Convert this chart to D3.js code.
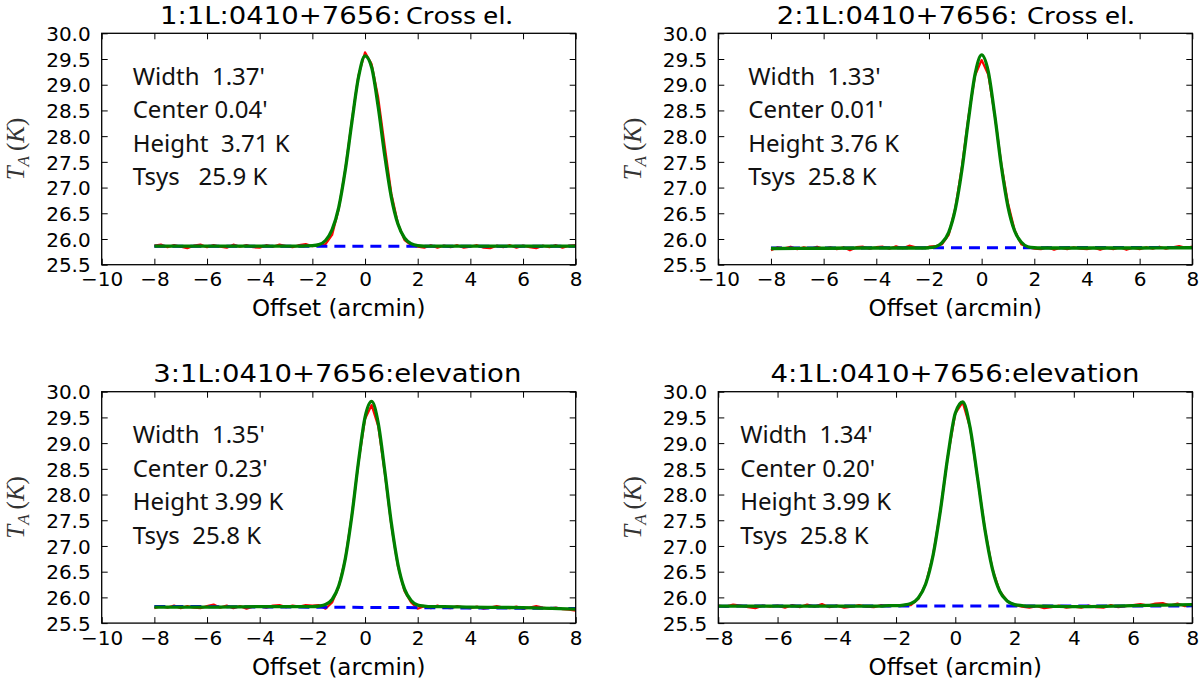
<!DOCTYPE html>
<html><head><meta charset="utf-8">
<script src="https://cdn.jsdelivr.net/npm/d3@7"></script>
<style>
body{margin:0;background:#fff}
svg{display:block;background:#fff}
.tick text{font-family:"DejaVu Sans";font-size:20px;fill:#000}
.annot{font-family:"Noto Sans";font-size:24px;fill:#111;white-space:pre}
</style>
</head><body>
<svg id="chart" width="1200" height="682"></svg>
<script>
// ---------------- data ----------------
const titleHeads = ["1:1L:0410+7656:", "2:1L:0410+7656:", "3:1L:0410+7656:elevation", "4:1L:0410+7656:elevation"];
const titleTails = ["Cross el.", "Cross el.", "", ""];
const xLabel = "Offset (arcmin)";
const yTicks = [25.5, 26.0, 26.5, 27.0, 27.5, 28.0, 28.5, 29.0, 29.5, 30.0];
const xTicksWide = [-10, -8, -6, -4, -2, 0, 2, 4, 6, 8];
const xTicksNarrow = [-8, -6, -4, -2, 0, 2, 4, 6, 8];
const xDomainWide = [-10, 8];
const xDomainNarrow = [-8, 8];
const yDomain = [25.5, 30.0];

const annot1 = ["Width  1.37'", "Center 0.04'", "Height  3.71 K", "Tsys   25.9 K"];
const annot2 = ["Width  1.33'", "Center 0.01'", "Height 3.76 K", "Tsys  25.8 K"];
const annot3 = ["Width  1.35'", "Center 0.23'", "Height 3.99 K", "Tsys  25.8 K"];
const annot4 = ["Width  1.34'", "Center 0.20'", "Height 3.99 K", "Tsys  25.8 K"];

// measured data (red) sampled offsets
const dataOffsets = [-8,-7.75,-7.5,-7.25,-7,-6.75,-6.5,-6.25,
  -6,-5.75,-5.5,-5.25,-5,-4.75,-4.5,-4.25,
  -4,-3.75,-3.5,-3.25,-3,-2.75,-2.5,-2.25,
  -2,-1.75,-1.5,-1.25,-1,-0.75,-0.5,-0.25,
  0,0.25,0.5,0.75,1,1.25,1.5,1.75,
  2,2.25,2.5,2.75,3,3.25,3.5,3.75,
  4,4.25,4.5,4.75,5,5.25,5.5,5.75,
  6,6.25,6.5,6.75,7,7.25,7.5,7.75,
  8];

const data1 = [25.87,25.89,25.84,25.88,25.85,25.82,25.87,25.89,
  25.84,25.88,25.85,25.83,25.89,25.85,25.88,25.84,
  25.83,25.88,25.85,25.89,25.86,25.84,25.88,25.90,
  25.86,25.89,25.90,26.08,26.58,27.35,28.30,29.18,
  29.63,29.40,28.75,27.80,26.88,26.30,25.98,25.88,
  25.85,25.83,25.88,25.83,25.87,25.84,25.88,25.83,
  25.85,25.88,25.83,25.82,25.87,25.84,25.88,25.83,
  25.87,25.84,25.82,25.87,25.84,25.88,25.83,25.87,
  25.88];
const data2 = [25.78,25.84,25.82,25.85,25.80,25.84,25.81,25.85,
  25.81,25.84,25.80,25.84,25.78,25.84,25.85,25.81,
  25.84,25.85,25.81,25.86,25.82,25.87,25.84,25.82,
  25.85,25.86,25.90,26.08,26.60,27.40,28.38,29.18,
  29.48,29.20,28.40,27.45,26.70,26.18,25.90,25.84,
  25.81,25.80,25.84,25.79,25.83,25.80,25.84,25.81,
  25.80,25.83,25.79,25.83,25.80,25.84,25.79,25.83,
  25.80,25.84,25.81,25.85,25.81,25.84,25.86,25.83,
  25.85];
const data3 = [25.79,25.83,25.80,25.84,25.79,25.83,25.80,25.79,
  25.83,25.86,25.80,25.84,25.79,25.83,25.78,25.82,
  25.83,25.80,25.84,25.85,25.81,25.84,25.82,25.85,
  25.84,25.85,25.78,25.90,26.20,26.75,27.60,28.62,
  29.47,29.74,29.33,28.42,27.40,26.60,26.12,25.90,
  25.78,25.83,25.79,25.84,25.80,25.79,25.83,25.80,
  25.79,25.82,25.78,25.80,25.83,25.80,25.79,25.82,
  25.78,25.80,25.83,25.80,25.78,25.80,25.77,25.76,
  25.74];
const data4 = [25.84,25.82,25.86,25.84,25.81,25.79,25.84,25.82,
  25.84,25.80,25.85,25.81,25.86,25.82,25.87,25.81,
  25.84,25.80,25.82,25.85,25.82,25.81,25.85,25.83,
  25.85,25.84,25.85,25.97,26.26,26.82,27.70,28.75,
  29.58,29.79,29.30,28.33,27.32,26.56,26.12,25.93,
  25.85,25.82,25.80,25.83,25.79,25.81,25.84,25.80,
  25.82,25.80,25.84,25.81,25.80,25.85,25.81,25.83,
  25.85,25.87,25.84,25.88,25.89,25.84,25.88,25.83,
  25.86];

// gaussian fit (green) sampled offsets
const fitOffsets = [-8,-6,-4,-3,-2.5,-2.25,-2,-1.75,-1.5,-1.25,-1,-0.75,-0.5,-0.25,0,0.25,0.5,0.75,1,1.25,1.5,1.75,2,2.25,2.5,3,4,6,8];
const fit1 = [25.86,25.86,25.86,25.86,25.86,25.865,25.87,25.89,25.97,26.18,26.61,27.34,28.27,29.14,29.56,29.34,28.57,27.62,26.81,26.29,26.02,25.91,25.87,25.86,25.86,25.86,25.86,25.86,25.86];
const fit2 = [25.815,25.82,25.825,25.825,25.825,25.825,25.83,25.85,25.93,26.13,26.58,27.34,28.32,29.20,29.58,29.26,28.40,27.41,26.63,26.16,25.94,25.85,25.83,25.825,25.825,25.825,25.825,25.825,25.83];
const fit3 = [25.81,25.81,25.82,25.82,25.82,25.82,25.82,25.83,25.86,25.96,26.22,26.75,27.59,28.63,29.50,29.81,29.39,28.46,27.44,26.64,26.16,25.94,25.85,25.83,25.82,25.82,25.81,25.80,25.77];
const fit4 = [25.83,25.83,25.83,25.83,25.83,25.84,25.84,25.85,25.88,25.99,26.26,26.82,27.70,28.75,29.58,29.80,29.30,28.33,27.32,26.56,26.12,25.93,25.86,25.84,25.83,25.83,25.82,25.84,25.86];

// baseline (blue dashed)
const baseOffsets = [-8, 8];
const base1 = [25.86, 25.86];
const base2 = [25.825, 25.835];
const base3 = [25.825, 25.785];
const base4 = [25.83, 25.835];

// ---------------- layout ----------------
const panels = [
  {l:101.7, t:33.3, title:0, dom:xDomainWide, ticks:xTicksWide, data:data1, fit:fit1, base:base1, annot:annot1, ax:31, ylx:17,
   headX:160, headW:241, tailX:405.7, tailW:107},
  {l:718.3, t:33.3, title:1, dom:xDomainWide, ticks:xTicksWide, data:data2, fit:fit2, base:base2, annot:annot2, ax:30, ylx:634,
   headX:776.7, headW:241, tailX:1026.7, tailW:108},
  {l:101.7, t:391.7, title:2, dom:xDomainWide, ticks:xTicksWide, data:data3, fit:fit3, base:base3, annot:annot3, ax:31, ylx:17,
   headX:153.3, headW:368},
  {l:718.3, t:391.7, title:3, dom:xDomainNarrow, ticks:xTicksNarrow, data:data4, fit:fit4, base:base4, annot:annot4, ax:22, ylx:634,
   headX:770.5, headW:369}
];
const PW = 474, PH = 231.4;

const svg = d3.select("#chart");
svg.append("rect").attr("width",1200).attr("height",682).attr("fill","#fff");

const fmtX = d3.format("d");
const fmtY = d3.format(".1f");

panels.forEach(p => {
  const x = d3.scaleLinear().domain(p.dom).range([0, PW]);
  const y = d3.scaleLinear().domain(yDomain).range([PH, 0]);
  const g = svg.append("g").attr("transform", `translate(${p.l},${p.t})`);

  const clip = "clip" + p.title;
  g.append("clipPath").attr("id", clip).append("rect").attr("width", PW).attr("height", PH);
  const plot = g.append("g").attr("clip-path", `url(#${clip})`);

  // red data
  const redLine = d3.line().x((d,i)=>x(dataOffsets[i])).y(d=>y(d));
  plot.append("path").datum(p.data).attr("d", redLine)
    .attr("fill","none").attr("stroke","#ff0000").attr("stroke-width",2.2).attr("stroke-linejoin","round");
  // blue baseline
  const blueLine = d3.line().x((d,i)=>x(baseOffsets[i])).y(d=>y(d));
  plot.append("path").datum(p.base).attr("d", blueLine)
    .attr("fill","none").attr("stroke","#0000ff").attr("stroke-width",3).attr("stroke-dasharray","11,7");
  // green fit
  const greenLine = d3.line().curve(d3.curveMonotoneX).x((d,i)=>x(fitOffsets[i])).y(d=>y(d));
  plot.append("path").datum(p.fit).attr("d", greenLine)
    .attr("fill","none").attr("stroke","#008000").attr("stroke-width",3.3).attr("stroke-linejoin","round");

  // axes
  const ax = g.append("g").attr("transform", `translate(0,${PH})`)
    .call(d3.axisBottom(x).tickValues(p.ticks).tickFormat(fmtX).tickSizeInner(-6).tickSizeOuter(0).tickPadding(7));
  const axT = g.append("g").call(d3.axisTop(x).tickValues(p.ticks).tickFormat("").tickSizeInner(-6).tickSizeOuter(0));
  const ay = g.append("g").call(d3.axisLeft(y).tickValues(yTicks).tickFormat(fmtY).tickSizeInner(-6).tickSizeOuter(0).tickPadding(11));
  const ayR = g.append("g").attr("transform", `translate(${PW},0)`)
    .call(d3.axisRight(y).tickValues(yTicks).tickFormat("").tickSizeInner(-6).tickSizeOuter(0));
  [ax, axT, ay, ayR].forEach(a => {
    a.select(".domain").remove();
    a.selectAll(".tick line").attr("stroke","#000").attr("stroke-width",1);
  });
  ax.selectAll(".tick text").attr("dy","0.74em");
  ay.selectAll(".tick text").attr("dy","0.36em");

  g.append("rect").attr("width", PW).attr("height", PH)
    .attr("fill","none").attr("stroke","#000").attr("stroke-width",1.3);

  // title (absolute positions, widths matched to the reference)
  const ty = p.t - 9.8;
  svg.append("text").attr("x", p.headX).attr("y", ty)
    .attr("font-family","DejaVu Sans").attr("font-size",25)
    .attr("textLength", p.headW).attr("lengthAdjust","spacingAndGlyphs")
    .text(titleHeads[p.title]);
  if (titleTails[p.title]) {
    svg.append("text").attr("x", p.tailX).attr("y", ty)
      .attr("font-family","Noto Sans").attr("font-size",23)
      .attr("textLength", p.tailW).attr("lengthAdjust","spacingAndGlyphs")
      .text(titleTails[p.title]);
  }

  // x label
  g.append("text").attr("x", PW/2).attr("y", PH + 51.6).attr("text-anchor","middle")
    .attr("font-family","DejaVu Sans").attr("font-size",23).text(xLabel);

  // y label
  const yl = svg.append("text")
    .attr("transform", `translate(${p.ylx + 7},${p.t + PH/2}) rotate(-90)`)
    .attr("text-anchor","middle").attr("font-family","Liberation Serif").attr("font-size",25).attr("fill","#333");
  yl.append("tspan").text("T").attr("font-style","italic");
  yl.append("tspan").text("A").attr("font-style","italic").attr("font-size",17).attr("dy",5);
  yl.append("tspan").text("\u2009(").attr("dy",-5);
  yl.append("tspan").text("K").attr("font-style","italic");
  yl.append("tspan").text(")");

  // annotation
  p.annot.forEach((s, i) => {
    g.append("text").attr("class","annot").attr("x", p.ax).attr("y", 51.7 + i*33.4).text(s);
  });
});
</script>
</body></html>
